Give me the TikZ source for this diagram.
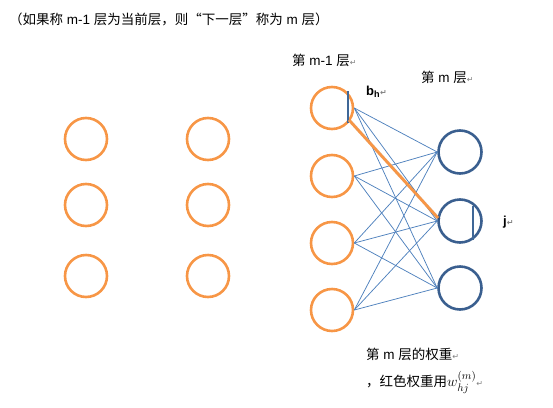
\documentclass[tikz,border=0pt]{standalone}
\usepackage{fontspec}
\setmainfont{Liberation Sans}
\newfontfamily\cjk{Noto Sans CJK SC}
\newfontfamily\sym{DejaVu Sans}
\newfontfamily\latf{Liberation Sans}
\definecolor{orangeN}{HTML}{F79646}
\definecolor{darkB}{HTML}{3A5F8F}
\definecolor{lineB}{HTML}{4F81BD}
\newcommand{\parmark}{{\sym\color{gray}\fontsize{8}{8}\selectfont ↵}}
\newcommand{\lat}[1]{{\latf\ #1\ }}
\begin{document}
\begin{tikzpicture}[x=1pt,y=-1pt,
  onode/.style={circle,draw=orangeN,line width=2.6pt,minimum size=42pt,inner sep=0pt},
  bnode/.style={circle,draw=darkB,line width=2.6pt,minimum size=43pt,inner sep=0pt},
  conn/.style={draw=lineB,line width=0.75pt},
  lbl/.style={inner sep=0pt,anchor=west,font=\cjk\fontsize{13.5}{15}\selectfont}]
\useasboundingbox (0,0) rectangle (553,407);
% left idle columns
\node[onode] (a1) at (86,139) {};
\node[onode] (a2) at (86,205) {};
\node[onode] (a3) at (86,276) {};
\node[onode] (c1) at (208,139) {};
\node[onode] (c2) at (208,205) {};
\node[onode] (c3) at (208,276) {};
% layer m-1
\node[onode] (p1) at (332,108) {};
\node[onode] (p2) at (332,176) {};
\node[onode] (p3) at (332,243) {};
\node[onode] (p4) at (332,310) {};
% layer m
\node[bnode] (q1) at (460,152) {};
\node[bnode] (q2) at (460,221) {};
\node[bnode] (q3) at (460,288) {};
% connections
\foreach \s in {p1,p2,p3,p4}{
  \foreach \t in {q1,q2,q3}{
    \draw[conn] (\s.east) -- (\t.west);
  }
}
% bias bars
\coordinate (bt) at (348,91);
\coordinate (bb) at (348,123);
\draw[lineB!80!black,line width=2.6pt] (bt) -- (bb);
\draw[lineB!80!black,line width=2.6pt] (473,206) -- (473,240);
% highlighted weight
\coordinate (ws) at (349,120);
\coordinate (we) at (438,218);
\draw[black,opacity=0.15,line width=3pt] ([shift={(1.5,1.5)}]ws) -- ([shift={(1.5,1.5)}]we);
\draw[orangeN,line width=2.8pt] (ws) -- (we);
% texts
\node[lbl] (t0) at (9,19) {（如果称\lat{m-1}层为当前层，则“下一层”称为\lat{m}层）};
\node[lbl] (t1) at (292,60) {第\lat{m-1}层\parmark};
\node[lbl] (t2) at (421,77) {第\lat{m}层\parmark};
\node[lbl,font=\bfseries\fontsize{13}{15}\selectfont] (t3) at (366,92) {b\textsubscript{h}\parmark};
\node[lbl,font=\bfseries\fontsize{13}{15}\selectfont] (t4) at (503,222) {j\parmark};
\node[lbl] (t5) at (366,354) {第\lat{m}层的权重\parmark};
\node[lbl] (t6) at (366,382) {，红色权重用{\fontsize{15}{15}\selectfont$w_{hj}^{(m)}$}\parmark};
\end{tikzpicture}
\end{document}
